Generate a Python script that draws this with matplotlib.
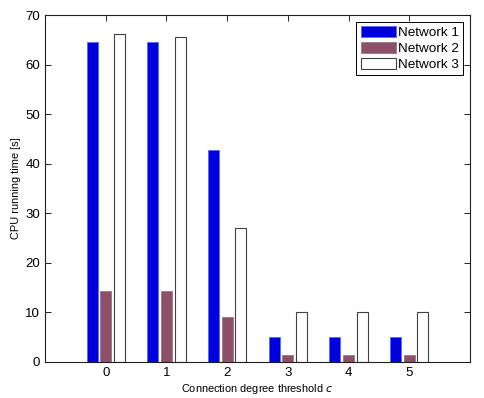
import matplotlib.pyplot as plt
import numpy as np

plt.rcParams['font.family'] = ['Liberation Sans', 'DejaVu Sans']

thresholds = [0, 1, 2, 3, 4, 5]
network1 = [64.6, 64.6, 42.8, 5.0, 5.0, 5.0]
network2 = [14.4, 14.4, 9.0, 1.5, 1.5, 1.5]
network3 = [66.2, 65.6, 27.0, 10.0, 10.0, 10.0]

fig = plt.figure(figsize=(4.85, 3.98), dpi=100)
ax = fig.add_axes([45 / 485, 1 - 362 / 398, 425 / 485, 347 / 398])
ax.set_axisbelow(True)

x = np.array(thresholds)
w = 0.18
ax.bar(x - 0.225, network1, w, color="#0000dd", edgecolor="#4f6dff", linewidth=0.6, label="Network 1")
ax.bar(x, network2, w, color="#8c5068", edgecolor="#a07080", linewidth=0.6, label="Network 2")
ax.bar(x + 0.225, network3, w, color="white", edgecolor="#404040", linewidth=0.8, label="Network 3")

ax.set_xlim(-1, 6)
ax.set_ylim(0, 70)
ax.set_xticks(thresholds)
ax.set_yticks(np.arange(0, 71, 10))
ax.tick_params(direction="in", top=True, right=True, labelsize=9.5, length=4, width=0.6)
for s in ax.spines.values():
    s.set_linewidth(0.8)
    s.set_color("#202020")

ax.set_xlabel("Connection degree threshold $c$", fontsize=7.9, labelpad=2)
ax.set_ylabel("CPU running time [s]", fontsize=7.9, labelpad=3)

leg = ax.legend(loc="upper right", fontsize=9.7, fancybox=False, framealpha=1,
                edgecolor="black", borderpad=0.3, handlelength=2.6, handleheight=0.9,
                handletextpad=0.2, labelspacing=0.22, borderaxespad=0.5)
leg.get_frame().set_linewidth(0.7)

fig.savefig("out.png", dpi=100)
